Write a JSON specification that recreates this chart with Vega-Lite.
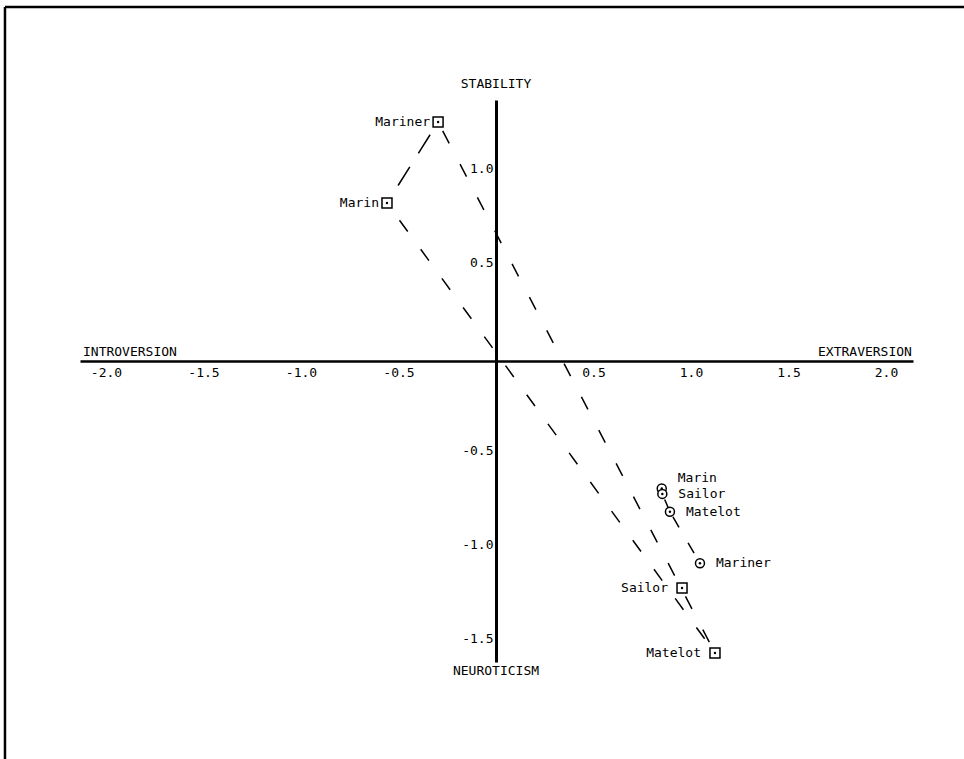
{
  "$schema": "https://vega.github.io/schema/vega-lite/v6.json",
  "autosize": {"type": "none"},
  "width": 833,
  "height": 562,
  "padding": {"left": 80, "top": 100, "right": 51, "bottom": 97},
  "background": "white",
  "config": {"view": {"stroke": null}, "font": "DejaVu Sans Mono", "text": {"font": "DejaVu Sans Mono", "fontSize": 13, "color": "black"}},
  "datasets": {
    "points": [
      {"word": "Mariner", "group": "square", "x": -0.297, "y": 1.271},
      {"word": "Marin", "group": "square", "x": -0.559, "y": 0.840},
      {"word": "Sailor", "group": "square", "x": 0.954, "y": -1.207},
      {"word": "Matelot", "group": "square", "x": 1.123, "y": -1.553},
      {"word": "Marin", "group": "circle", "x": 0.850, "y": -0.678},
      {"word": "Sailor", "group": "circle", "x": 0.853, "y": -0.707},
      {"word": "Matelot", "group": "circle", "x": 0.892, "y": -0.802},
      {"word": "Mariner", "group": "circle", "x": 1.046, "y": -1.076}
    ],
    "links": [
      {"from": "Mariner", "to": "Marin", "group": "square", "x": -0.297, "y": 1.271, "x2": -0.559, "y2": 0.840},
      {"from": "Marin", "to": "Matelot", "group": "square", "x": -0.559, "y": 0.840, "x2": 1.123, "y2": -1.553},
      {"from": "Mariner", "to": "Matelot", "group": "square", "x": -0.297, "y": 1.271, "x2": 1.123, "y2": -1.553},
      {"from": "Sailor", "to": "Matelot", "group": "circle", "x": 0.853, "y": -0.707, "x2": 0.892, "y2": -0.802},
      {"from": "Matelot", "to": "Mariner", "group": "circle", "x": 0.892, "y": -0.802, "x2": 1.046, "y2": -1.076}
    ],
    "poles": [
      {"label": "STABILITY", "side": "v", "x": 0, "y": 1.473},
      {"label": "NEUROTICISM", "side": "v", "x": 0, "y": -1.649},
      {"label": "INTROVERSION", "side": "l", "x": -2.118, "y": 0.048},
      {"label": "EXTRAVERSION", "side": "r", "x": 2.133, "y": 0.048}
    ],
    "frame": [
      {"x": -2.518, "y": 1.883, "x2": -2.518, "y2": -2.12},
      {"x": -2.518, "y": 1.883, "x2": 2.40, "y2": 1.883}
    ]
  },
  "encoding": {
    "x": {
      "field": "x", "type": "quantitative",
      "scale": {"domain": [-2.1333, 2.1385], "nice": false, "zero": false},
      "axis": {
        "orient": "bottom", "offset": -301, "title": null,
        "values": [-2, -1.5, -1, -0.5, 0.5, 1, 1.5, 2],
        "labelExpr": "replace(format(datum.value, '.1f'), '\u2212', '-')",
        "ticks": false, "grid": false, "domainColor": "black", "domainWidth": 2.5,
        "labelFont": "DejaVu Sans Mono", "labelFontSize": 13, "labelColor": "black",
        "labelPadding": 5, "labelFlush": false, "labelOverlap": false
      }
    },
    "y": {
      "field": "y", "type": "quantitative",
      "scale": {"domain": [-1.6011, 1.3883], "nice": false, "zero": false},
      "axis": {
        "orient": "left", "offset": -416, "title": null,
        "values": [-1.5, -1, -0.5, 0.5, 1],
        "labelExpr": "replace(format(datum.value, '.1f'), '\u2212', '-')",
        "ticks": false, "grid": false, "domainColor": "black", "domainWidth": 3,
        "labelFont": "DejaVu Sans Mono", "labelFontSize": 13, "labelColor": "black",
        "labelPadding": 3, "labelOffset": -4, "labelFlush": false, "labelOverlap": false
      }
    }
  },
  "layer": [
    {
      "data": {"name": "frame"},
      "mark": {"type": "rule", "color": "black", "strokeWidth": 2.5, "clip": false},
      "encoding": {"x2": {"field": "x2"}, "y2": {"field": "y2"}}
    },
    {
      "data": {"name": "links"},
      "transform": [{"filter": "datum.from == 'Mariner' && datum.to == 'Marin'"}],
      "mark": {"type": "rule", "color": "black", "strokeWidth": 1.5, "strokeDash": [22, 16], "strokeDashOffset": 23},
      "encoding": {"x2": {"field": "x2"}, "y2": {"field": "y2"}}
    },
    {
      "data": {"name": "links"},
      "transform": [{"filter": "datum.from == 'Marin' && datum.to == 'Matelot'"}],
      "mark": {"type": "rule", "color": "black", "strokeWidth": 1.5, "strokeDash": [14, 22], "strokeDashOffset": 14.8},
      "encoding": {"x2": {"field": "x2"}, "y2": {"field": "y2"}}
    },
    {
      "data": {"name": "links"},
      "transform": [{"filter": "datum.from == 'Mariner' && datum.to == 'Matelot'"}],
      "mark": {"type": "rule", "color": "black", "strokeWidth": 1.5, "strokeDash": [14, 23.5], "strokeDashOffset": 27.5},
      "encoding": {"x2": {"field": "x2"}, "y2": {"field": "y2"}}
    },
    {
      "data": {"name": "links"},
      "transform": [{"filter": "datum.group == 'circle'"}],
      "mark": {"type": "rule", "color": "black", "strokeWidth": 1.5, "strokeDash": [12, 18], "strokeDashOffset": 24},
      "encoding": {"x2": {"field": "x2"}, "y2": {"field": "y2"}}
    },
    {
      "data": {"name": "points"},
      "transform": [{"filter": "datum.group == 'square'"}],
      "mark": {"type": "point", "shape": "square", "size": 100, "filled": false, "fill": "white", "fillOpacity": 1, "stroke": "black", "strokeWidth": 1.5, "opacity": 1}
    },
    {
      "data": {"name": "points"},
      "transform": [{"filter": "datum.group == 'circle'"}],
      "mark": {"type": "point", "shape": "circle", "size": 81, "filled": false, "fill": "white", "fillOpacity": 1, "stroke": "black", "strokeWidth": 1.5, "opacity": 1}
    },
    {
      "data": {"name": "points"},
      "mark": {"type": "point", "shape": "circle", "size": 6, "filled": true, "color": "black", "opacity": 1}
    },
    {
      "data": {"name": "points"},
      "transform": [{"filter": "datum.group == 'square' && (datum.word == 'Mariner' || datum.word == 'Marin')"}],
      "mark": {"type": "text", "align": "right", "baseline": "middle", "dx": -8},
      "encoding": {"text": {"field": "word"}}
    },
    {
      "data": {"name": "points"},
      "transform": [{"filter": "datum.group == 'square' && (datum.word == 'Sailor' || datum.word == 'Matelot')"}],
      "mark": {"type": "text", "align": "right", "baseline": "middle", "dx": -14},
      "encoding": {"text": {"field": "word"}}
    },
    {
      "data": {"name": "points"},
      "transform": [{"filter": "datum.group == 'circle' && datum.word != 'Marin'"}],
      "mark": {"type": "text", "align": "left", "baseline": "middle", "dx": 16},
      "encoding": {"text": {"field": "word"}}
    },
    {
      "data": {"name": "points"},
      "transform": [{"filter": "datum.group == 'circle' && datum.word == 'Marin'"}],
      "mark": {"type": "text", "align": "left", "baseline": "middle", "dx": 16, "dy": -10},
      "encoding": {"text": {"field": "word"}}
    },
    {
      "data": {"name": "poles"},
      "transform": [{"filter": "datum.side == 'v'"}],
      "mark": {"type": "text", "align": "center", "baseline": "middle", "clip": false},
      "encoding": {"text": {"field": "label"}}
    },
    {
      "data": {"name": "poles"},
      "transform": [{"filter": "datum.side == 'l'"}],
      "mark": {"type": "text", "align": "left", "baseline": "middle"},
      "encoding": {"text": {"field": "label"}}
    },
    {
      "data": {"name": "poles"},
      "transform": [{"filter": "datum.side == 'r'"}],
      "mark": {"type": "text", "align": "right", "baseline": "middle"},
      "encoding": {"text": {"field": "label"}}
    }
  ]
}
